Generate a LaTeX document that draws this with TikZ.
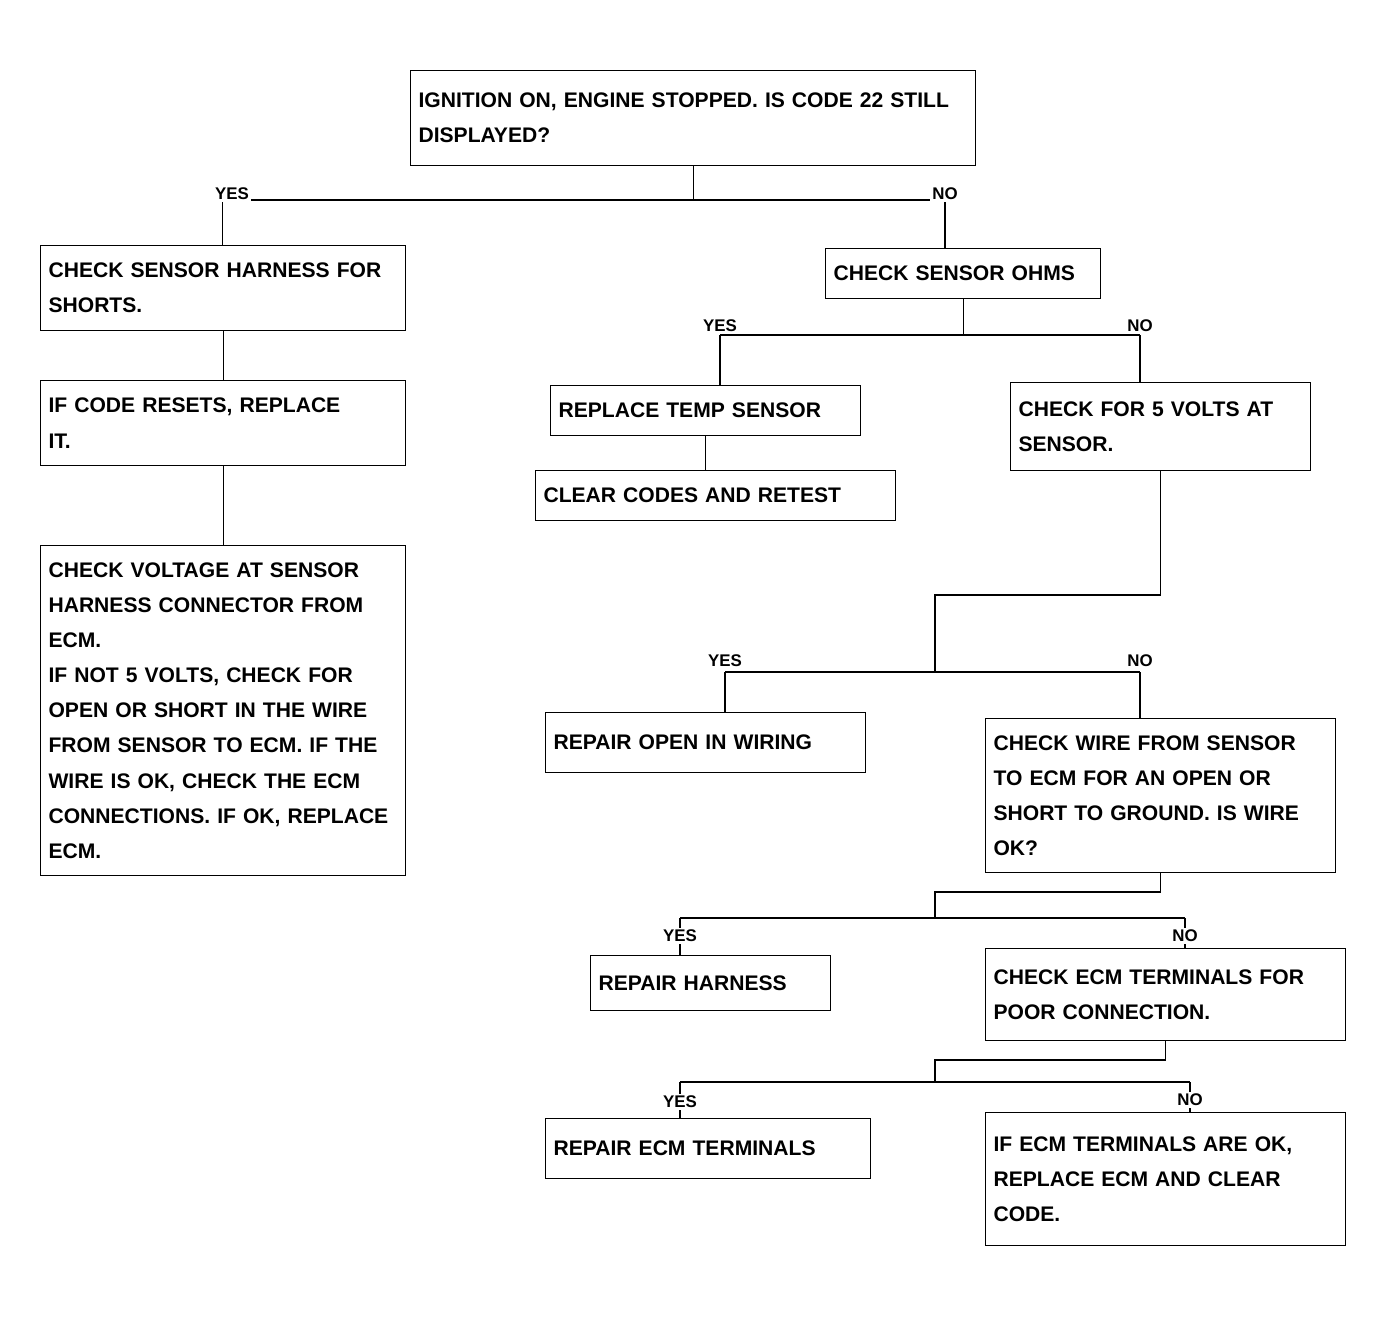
\documentclass[tikz,border=0pt]{standalone}
\usepackage{fontspec}
\setmainfont{Liberation Sans}
\begin{document}
\begin{tikzpicture}[x=0.25mm,y=-0.25mm,
  box/.style={draw=black, line width=0.8pt, anchor=north west, align=left,
    inner xsep=2mm, inner ysep=1mm, font=\bfseries\fontsize{15}{25}\selectfont},
  lbl/.style={fill=white, inner sep=1.5pt, font=\bfseries\fontsize{12}{14}\selectfont},
  conn/.style={draw=black, line width=0.8pt}]
\useasboundingbox (0,0) rectangle (1384,1317);
\fill[white] (0,0) rectangle (1384,1317);

% boxes
\node[box, text width=137.25mm, minimum height=23.75mm] (top) at (410,70)
  {IGNITION ON, ENGINE STOPPED. IS CODE 22 STILL\\DISPLAYED?};
\node[box, text width=87.25mm, minimum height=21.25mm] (A) at (40,245)
  {CHECK SENSOR HARNESS FOR\\SHORTS.};
\node[box, text width=87.25mm, minimum height=21.25mm] (B) at (40,380)
  {IF CODE RESETS, REPLACE\\IT.};
\node[box, text width=87.25mm, minimum height=82.5mm] (C) at (40,545)
  {CHECK VOLTAGE AT SENSOR\\HARNESS CONNECTOR FROM\\ECM.\\IF NOT 5 VOLTS, CHECK FOR\\OPEN OR SHORT IN THE WIRE\\FROM SENSOR TO ECM. IF THE\\WIRE IS OK, CHECK THE ECM\\CONNECTIONS. IF OK, REPLACE\\ECM.};
\node[box, text width=64.75mm, minimum height=12.5mm] (R) at (825,248)
  {CHECK SENSOR OHMS};
\node[box, text width=73.5mm, minimum height=12.5mm] (D) at (550,385)
  {REPLACE TEMP SENSOR};
\node[box, text width=86mm, minimum height=12.5mm] (E) at (535,470)
  {CLEAR CODES AND RETEST};
\node[box, text width=71mm, minimum height=22mm] (F) at (1010,382)
  {CHECK FOR 5 VOLTS AT\\SENSOR.};
\node[box, text width=76mm, minimum height=15mm] (G) at (545,712)
  {REPAIR OPEN IN WIRING};
\node[box, text width=83.5mm, minimum height=38.5mm] (H) at (985,718)
  {CHECK WIRE FROM SENSOR\\TO ECM FOR AN OPEN OR\\SHORT TO GROUND. IS WIRE\\OK?};
\node[box, text width=56mm, minimum height=13.75mm] (I) at (590,955)
  {REPAIR HARNESS};
\node[box, text width=86mm, minimum height=23mm] (J) at (985,948)
  {CHECK ECM TERMINALS FOR\\POOR CONNECTION.};
\node[box, text width=77.25mm, minimum height=15mm] (K) at (545,1118)
  {REPAIR ECM TERMINALS};
\node[box, text width=86mm, minimum height=33.25mm] (L) at (985,1112)
  {IF ECM TERMINALS ARE OK,\\REPLACE ECM AND CLEAR\\CODE.};

% junction coordinates
\coordinate (b1l) at (222.5,200);
\coordinate (b1r) at (945,200);
\coordinate (b2l) at (720,335);
\coordinate (b2r) at (1140,335);
\coordinate (k1) at (935,595);
\coordinate (b3l) at (725,672);
\coordinate (b3r) at (1140,672);
\coordinate (k2) at (935,892);
\coordinate (b4l) at (680,918);
\coordinate (b4r) at (1185,918);
\coordinate (k3) at (935,1060);
\coordinate (b5l) at (680,1082);
\coordinate (b5r) at (1190,1082);

% connectors
\draw[conn] (top.south) -- (top.south |- b1l);
\draw[conn] (b1l) -- (b1r);
\draw[conn] (b1l) -- (b1l |- A.north);
\draw[conn] (b1r) -- (b1r |- R.north);
\draw[conn] (A.south) -- (B.north);
\draw[conn] (B.south) -- (C.north);

\draw[conn] (R.south) -- (R.south |- b2l);
\draw[conn] (b2l) -- (b2r);
\draw[conn] (b2l) -- (b2l |- D.north);
\draw[conn] (b2r) -- (b2r |- F.north);
\draw[conn] (D.south) -- (D.south |- E.north);

\draw[conn] (F.south) |- (k1) -- (k1 |- b3l);
\draw[conn] (b3l) -- (b3r);
\draw[conn] (b3l) -- (b3l |- G.north);
\draw[conn] (b3r) -- (b3r |- H.north);

\draw[conn] (H.south) |- (k2) -- (k2 |- b4l);
\draw[conn] (b4l) -- (b4r);
\draw[conn] (b4l) -- (b4l |- I.north);
\draw[conn] (b4r) -- (b4r |- J.north);

\draw[conn] (J.south) |- (k3) -- (k3 |- b5l);
\draw[conn] (b5l) -- (b5r);
\draw[conn] (b5l) -- (b5l |- K.north);
\draw[conn] (b5r) -- (b5r |- L.north);

% branch labels
\node[lbl] (l1a) at (232,194) {YES};
\node[lbl] (l1b) at (945,194) {NO};
\node[lbl] (l2a) at (720,326) {YES};
\node[lbl] (l2b) at (1140,326) {NO};
\node[lbl] (l3a) at (725,661) {YES};
\node[lbl] (l3b) at (1140,661) {NO};
\node[lbl] (l4a) at (680,936) {YES};
\node[lbl] (l4b) at (1185,936) {NO};
\node[lbl] (l5a) at (680,1102) {YES};
\node[lbl] (l5b) at (1190,1100) {NO};
\end{tikzpicture}
\end{document}
